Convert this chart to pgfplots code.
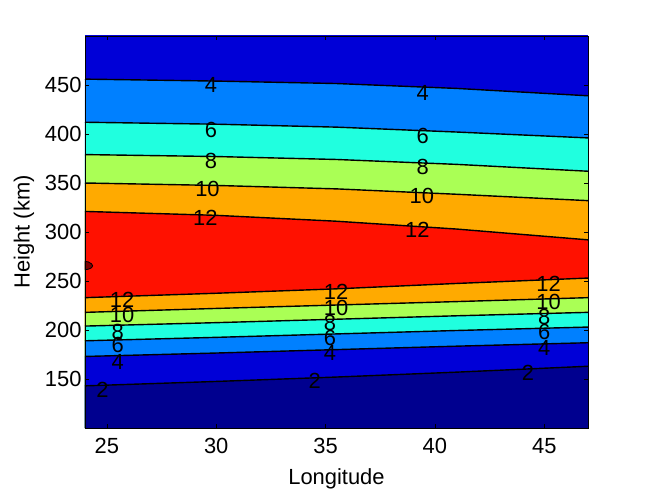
\documentclass[border=0pt]{standalone}
\usepackage{pgfplots}
\pgfplotsset{compat=1.18}
\usepackage{fontspec}
\setmainfont{Liberation Sans}
\definecolor{cnavy}{RGB}{0,0,143}
\definecolor{cblue}{RGB}{0,0,215}
\definecolor{cazure}{RGB}{0,128,255}
\definecolor{ccyan}{RGB}{32,255,223}
\definecolor{clime}{RGB}{170,255,85}
\definecolor{corange}{RGB}{255,170,0}
\definecolor{cred}{RGB}{255,17,0}
\definecolor{cdark}{RGB}{128,0,0}
\begin{document}
\begin{tikzpicture}
\begin{axis}[
  scale only axis, width=503bp, height=392bp,
  xmin=24, xmax=47, ymin=100, ymax=500,
  xtick={25,30,...,45}, ytick={150,200,...,450},
  tick align=inside, major tick length=4bp,
  axis line style={black, line width=0.6bp},
  tick style={black, line width=0.5bp},
  ticklabel style={font=\fontsize{22}{26}\selectfont},
  xticklabel style={yshift=-7bp},
  /pgf/number format/assume math mode=true,
  label style={font=\fontsize{22}{26}\selectfont},
  xlabel={Longitude}, ylabel={Height (km)},
  xlabel style={yshift=-8bp},
  ylabel style={yshift=4bp},
  axis on top,
]
% regions, filled from top to bottom
\addplot[fill=cblue, draw=none] coordinates {(24,510) (47,510)} \closedcycle;
\addplot[fill=cazure, draw=none] coordinates {(24,456) (30,454) (35.5,451.5) (41,446.5) (47,439)} \closedcycle;
\addplot[fill=ccyan, draw=none] coordinates {(24,412) (30,410) (35.5,407) (41,402) (47,396)} \closedcycle;
\addplot[fill=clime, draw=none] coordinates {(24,379) (30,377) (35.5,374) (41,369) (47,362)} \closedcycle;
\addplot[fill=corange, draw=none] coordinates {(24,350) (30,347.5) (35.5,344) (41,338.5) (47,332)} \closedcycle;
\addplot[fill=cred, draw=none] coordinates {(24,321) (30,317) (35.5,311) (41,303) (47,292)} \closedcycle;
\addplot[fill=corange, draw=none] coordinates {(24,233) (30,237.5) (35.5,242) (41,247.5) (47,253)} \closedcycle;
\addplot[fill=clime, draw=none] coordinates {(24,218) (30,222) (35.5,225.5) (41,229) (47,233)} \closedcycle;
\addplot[fill=ccyan, draw=none] coordinates {(24,204) (30,207.5) (35.5,211) (41,214.5) (47,218)} \closedcycle;
\addplot[fill=cazure, draw=none] coordinates {(24,189) (30,192.5) (35.5,196) (41,199.5) (47,203)} \closedcycle;
\addplot[fill=cblue, draw=none] coordinates {(24,173) (30,176.5) (35.5,180) (41,183.5) (47,187)} \closedcycle;
\addplot[fill=cnavy, draw=none] coordinates {(24,143) (30,147.5) (35.5,152) (41,157) (47,163)} \closedcycle;
% small closed contour at the left edge
\addplot[fill=cdark, draw=black, line width=0.8bp] coordinates {(24,270) (24.15,269.5) (24.3,267.5) (24.35,265.5) (24.3,263.5) (24.15,262) (24,261.5)} -- cycle;
% contour lines
\addplot[black, line width=1.4bp] coordinates {(24,456) (30,454) (35.5,451.5) (41,446.5) (47,439)};
\addplot[black, line width=1.4bp] coordinates {(24,412) (30,410) (35.5,407) (41,402) (47,396)};
\addplot[black, line width=1.4bp] coordinates {(24,379) (30,377) (35.5,374) (41,369) (47,362)};
\addplot[black, line width=1.4bp] coordinates {(24,350) (30,347.5) (35.5,344) (41,338.5) (47,332)};
\addplot[black, line width=1.4bp] coordinates {(24,321) (30,317) (35.5,311) (41,303) (47,292)};
\addplot[black, line width=1.4bp] coordinates {(24,233) (30,237.5) (35.5,242) (41,247.5) (47,253)};
\addplot[black, line width=1.4bp] coordinates {(24,218) (30,222) (35.5,225.5) (41,229) (47,233)};
\addplot[black, line width=1.4bp] coordinates {(24,204) (30,207.5) (35.5,211) (41,214.5) (47,218)};
\addplot[black, line width=1.4bp] coordinates {(24,189) (30,192.5) (35.5,196) (41,199.5) (47,203)};
\addplot[black, line width=1.4bp] coordinates {(24,173) (30,176.5) (35.5,180) (41,183.5) (47,187)};
\addplot[black, line width=1.4bp] coordinates {(24,143) (30,147.5) (35.5,152) (41,157) (47,163)};
% contour labels
\begin{scope}[every node/.style={font=\fontsize{22}{24}\selectfont, inner sep=0pt, anchor=center}]
\node at (axis cs:29.76,450) {4};
\node at (axis cs:29.76,404) {6};
\node at (axis cs:29.76,372.4) {8};
\node at (axis cs:29.6,343.6) {10};
\node at (axis cs:29.5,314) {12};
\node at (axis cs:39.44,441.5) {4};
\node at (axis cs:39.44,398) {6};
\node at (axis cs:39.44,366.7) {8};
\node at (axis cs:39.4,336.7) {10};
\node at (axis cs:39.2,302) {12};
\node at (axis cs:25.7,230.6) {12};
\node at (axis cs:25.7,215.3) {10};
\node at (axis cs:25.5,198.3) {8};
\node at (axis cs:25.5,184.7) {6};
\node at (axis cs:25.5,167.7) {4};
\node at (axis cs:24.8,138.8) {2};
\node at (axis cs:35.48,238.8) {12};
\node at (axis cs:35.48,222.4) {10};
\node at (axis cs:35.2,207) {8};
\node at (axis cs:35.2,191.8) {6};
\node at (axis cs:35.2,176.5) {4};
\node at (axis cs:34.5,148) {2};
\node at (axis cs:45.2,246.6) {12};
\node at (axis cs:45.2,228.9) {10};
\node at (axis cs:45.0,213.6) {8};
\node at (axis cs:45.0,198.3) {6};
\node at (axis cs:45.0,181.3) {4};
\node at (axis cs:44.26,155.8) {2};
\end{scope}
\end{axis}
\path ([xshift=-85bp,yshift=-60bp]current axis.south west) rectangle ([xshift=63bp,yshift=36bp]current axis.north east);
\end{tikzpicture}
\end{document}
